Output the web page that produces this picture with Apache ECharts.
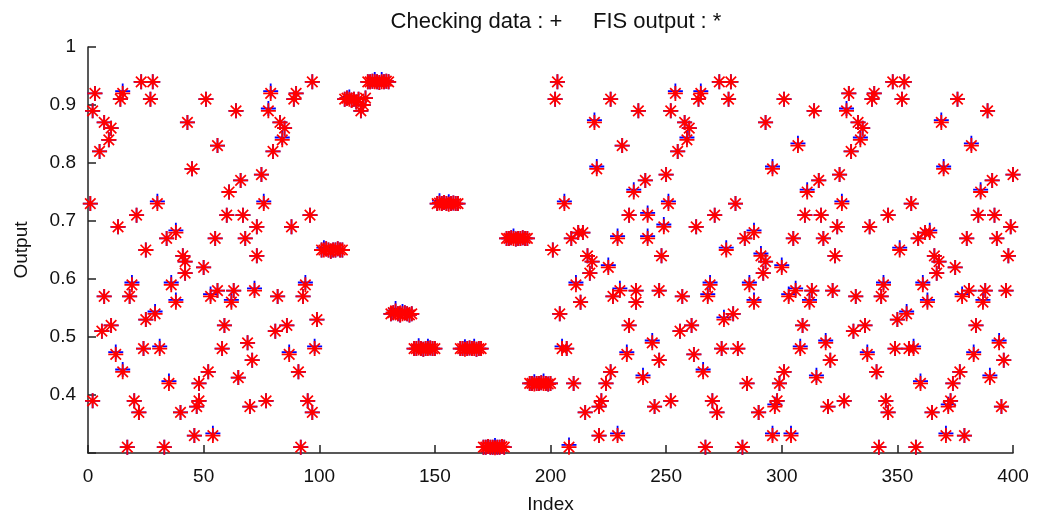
<!DOCTYPE html>
<html>
<head>
<meta charset="utf-8">
<title>Checking data vs FIS output</title>
<script src="https://cdn.jsdelivr.net/npm/echarts@6/dist/echarts.min.js"></script>
<style>
  html, body { margin: 0; padding: 0; background: #fff; }
  #main { width: 1040px; height: 519px; }
</style>
</head>
<body>
<div id="main"></div>
<script>
// indices 1..99 (one star per index roughly)
var idxA = [1,2,2,3,5,6,7,7,9,10,10,12,13,14,15,15,17,18,19,20,21,22,23,24,25,25,27,28,29,30,31,33,34,35,36,38,38,40,41,42,42,43,45,
    46,47,48,48,50,51,52,53,54,55,56,56,58,59,60,61,62,63,64,65,66,67,68,69,70,71,72,73,73,75,76,77,78,79,80,81,82,83,84,85,86,87,88,89,90,91,92,93,94,95,96,97,97,98,99];
var valA = [0.73,0.39,0.89,0.92,0.82,0.51,0.57,0.87,0.84,0.86,0.52,0.47,0.69,0.91,0.92,0.44,0.31,0.57,0.59,0.39,0.71,0.37,0.94,0.48,0.53,0.65,0.91,0.94,0.54,0.73,0.48,0.31,0.67,0.42,0.59,0.68,0.56,0.37,0.64,0.61,0.63,0.87,0.79,
    0.33,0.38,0.39,0.42,0.62,0.91,0.44,0.57,0.33,0.67,0.58,0.83,0.48,0.52,0.71,0.75,0.56,0.58,0.89,0.43,0.77,0.71,0.67,0.49,0.38,0.46,0.58,0.64,0.69,0.78,0.73,0.39,0.89,0.92,0.82,0.51,0.57,0.87,0.84,0.86,0.52,0.47,0.69,0.91,0.92,0.44,0.31,0.57,0.59,0.39,0.71,0.37,0.94,0.48,0.53];

// indices 101..200, the flat runs
var valB = [
    0.65,0.65,0.652,0.65,0.648,0.65,0.65,0.652,0.65,0.65,
    0.91,0.912,0.91,0.908,0.91,0.905,0.91,0.89,0.9,0.912,
    0.94,0.94,0.941,0.94,0.94,0.939,0.94,0.94,0.941,0.94,
    0.54,0.542,0.545,0.54,0.538,0.54,0.542,0.54,0.538,0.54,
    0.48,0.48,0.481,0.48,0.479,0.48,0.48,0.481,0.48,0.48,
    0.73,0.731,0.73,0.732,0.73,0.729,0.73,0.731,0.73,0.73,
    0.48,0.48,0.479,0.48,0.481,0.48,0.48,0.479,0.48,0.48,
    0.31,0.31,0.311,0.31,0.31,0.309,0.31,0.31,0.311,0.31,
    0.67,0.67,0.671,0.67,0.669,0.67,0.67,0.671,0.67,0.67,
    0.42,0.42,0.419,0.42,0.42,0.421,0.42,0.42,0.419,0.42
];

// indices 201..400
var idxC = [201,202,203,204,205,206,207,208,209,210,211,212,213,214,215,216,217,218,219,220,221,221,222,224,225,226,226,227,229,229,230,231,233,234,234,236,237,237,238,240,241,242,242,244,245,
    247,247,248,249,250,251,252,252,254,255,256,257,258,259,260,261,262,263,264,265,266,267,268,269,270,271,272,273,274,275,276,277,278,279,280,281,283,284,285,286,288,288,290,291,292,293,293,
    296,296,297,298,299,300,301,301,303,304,305,306,307,308,309,310,311,312,313,314,315,316,317,318,319,320,321,322,323,324,325,326,327,328,329,330,331,332,333,334,335,336,337,338,339,340,341,342,343,344,
    345,346,346,348,349,350,351,352,353,354,355,356,357,358,359,360,361,362,363,364,365,366,367,368,369,370,371,372,373,374,375,376,377,378,379,380,381,382,383,384,385,386,387,388,389,390,391,392,393,394,395,396,397,398,399,400];
var valC = [0.65,0.91,0.94,0.54,0.48,0.73,0.48,0.31,0.67,0.42,0.59,0.68,0.56,0.68,0.37,0.64,0.61,0.63,0.87,0.79,0.33,0.38,0.39,0.42,0.62,0.91,0.44,0.57,0.33,0.67,0.58,0.83,0.47,0.52,0.71,0.75,0.58,0.56,0.89,0.43,0.77,0.71,0.67,0.49,0.38,
    0.46,0.58,0.64,0.69,0.78,0.73,0.39,0.89,0.92,0.82,0.51,0.57,0.87,0.84,0.86,0.52,0.47,0.69,0.91,0.92,0.44,0.31,0.57,0.59,0.39,0.71,0.37,0.94,0.48,0.53,0.65,0.91,0.94,0.54,0.73,0.48,0.31,0.67,0.42,0.59,0.68,0.56,0.37,0.64,0.61,0.63,0.87,
    0.79,0.33,0.38,0.39,0.42,0.62,0.91,0.44,0.57,0.33,0.67,0.58,0.83,0.48,0.52,0.71,0.75,0.56,0.58,0.89,0.43,0.77,0.71,0.67,0.49,0.38,0.46,0.58,0.64,0.69,0.78,0.73,0.39,0.89,0.92,0.82,0.51,0.57,0.87,0.84,0.86,0.52,0.47,0.69,0.91,0.92,0.44,0.31,0.57,0.59,
    0.39,0.37,0.71,0.94,0.48,0.53,0.65,0.91,0.94,0.54,0.48,0.73,0.48,0.31,0.67,0.42,0.59,0.68,0.56,0.68,0.37,0.64,0.61,0.63,0.87,0.79,0.33,0.38,0.39,0.42,0.62,0.91,0.44,0.57,0.33,0.67,0.58,0.83,0.47,0.52,0.71,0.75,0.56,0.58,0.89,0.43,0.77,0.71,0.67,0.49,0.38,0.46,0.58,0.64,0.69,0.78];

// where the blue '+' peeks out, checking data sits a little above the FIS output
var checkAbove = [12,15,19,29,30,31,35,36,38,53,54,62,72,76,78,79,84,87,94,98,
    102,113,124,127,133,136,143,147,152,156,163,167,176,184,193,197,
    205,206,208,211,219,220,225,229,230,233,236,240,242,244,249,251,254,259,265,266,268,269,275,276,286,288,291,
    296,297,300,303,304,306,307,308,311,312,315,319,326,328,334,337,344,
    351,354,357,360,361,363,364,369,370,371,372,378,382,383,386,387,390,394];
var checkShift = 0.004;

var fisData = [];
var chkData = [];
function addPoint(x, y) {
    fisData.push([x, y]);
    chkData.push([x, checkAbove.indexOf(x) >= 0 ? y + checkShift : y]);
}
for (var i = 0; i < idxA.length; i++) addPoint(idxA[i], valA[i]);
for (var j = 0; j < valB.length; j++) addPoint(101 + j, valB[j]);
for (var k = 0; k < idxC.length; k++) addPoint(idxC[k], valC[k]);

// matlab style markers
var plusPath = 'path://M0,4.4H10V5.6H0Z M4.4,0H5.6V10H4.4Z';
var starPath = 'path://M0,4.4H10V5.6H0Z M4.4,0H5.6V10H4.4Z M1.1,1.9L1.9,1.1L8.9,8.1L8.1,8.9Z M8.1,1.1L8.9,1.9L1.9,8.9L1.1,8.1Z';

var font = 'Liberation Sans, Arial, sans-serif';
var axisColor = '#222';

var myChart = echarts.init(document.getElementById('main'));
var option = {
    animation: false,
    backgroundColor: '#fff',
    title: {
        text: 'Checking data : +     FIS output : *',
        left: 551,
        top: 6,
        textAlign: 'center',
        textStyle: {fontFamily: font, fontSize: 22, fontWeight: 'normal', color: '#111'}
    },
    grid: {left: 88, right: 27, top: 47, bottom: 66, outerBoundsMode: 'none'},
    xAxis: {
        type: 'value',
        min: 0,
        max: 400,
        interval: 50,
        name: 'Index',
        nameLocation: 'middle',
        nameGap: 42,
        nameTextStyle: {fontFamily: font, fontSize: 19, color: '#111'},
        axisLine: {lineStyle: {color: axisColor, width: 1.5}},
        axisTick: {inside: true, length: 8, lineStyle: {color: axisColor, width: 1.5}},
        axisLabel: {margin: 14, fontFamily: font, fontSize: 19, color: '#111'},
        splitLine: {show: false}
    },
    yAxis: {
        type: 'value',
        min: 0.3,
        max: 1,
        interval: 0.1,
        name: 'Output',
        nameLocation: 'middle',
        nameGap: 57,
        nameTextStyle: {fontFamily: font, fontSize: 19, color: '#111'},
        axisLine: {show: true, lineStyle: {color: axisColor, width: 1.5}},
        axisTick: {show: true, inside: true, length: 8, lineStyle: {color: axisColor, width: 1.5}},
        axisLabel: {
            margin: 12,
            fontFamily: font,
            fontSize: 19,
            color: '#111',
            formatter: function (v) { return v < 0.35 ? '' : String(+v.toFixed(1)); }
        },
        splitLine: {show: false}
    },
    series: [
        {
            name: 'Checking data',
            type: 'scatter',
            symbol: plusPath,
            symbolSize: 15,
            itemStyle: {color: '#0000ff', opacity: 1},
            data: chkData,
            z: 2
        },
        {
            name: 'FIS output',
            type: 'scatter',
            symbol: starPath,
            symbolSize: 15,
            itemStyle: {color: '#ff0000', opacity: 1},
            data: fisData,
            z: 3
        }
    ]
};
myChart.setOption(option);
</script>
</body>
</html>
